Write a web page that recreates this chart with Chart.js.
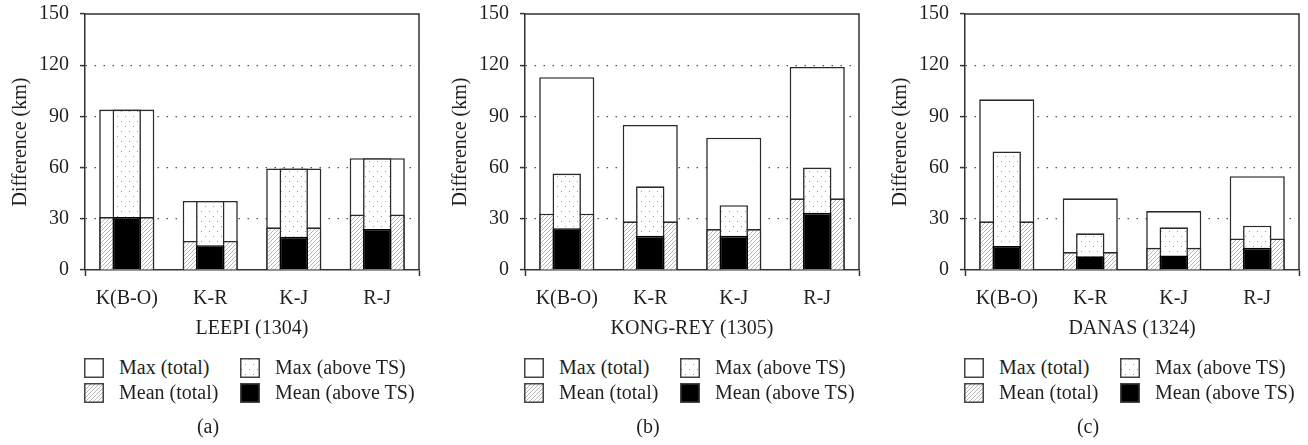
<!DOCTYPE html>
<html>
<head>
<meta charset="utf-8">
<script src="https://cdn.jsdelivr.net/npm/chart.js@4/dist/chart.umd.min.js"></script>
<style>
  body { margin: 0; background: #fff; font-family: 'Liberation Serif', 'Times New Roman', Times, 'Noto Serif', 'DejaVu Serif', serif; color: #231f20; }
  #wrap { position: relative; width: 1308px; height: 445px; overflow: hidden; }
  .panel { position: absolute; top: 0; width: 428px; height: 445px; }
  .panel canvas.plot { position: absolute; left: 0; top: 0; }
  .legend { position: absolute; left: 84px; top: 355px; display: grid; grid-template-columns: 156px auto; grid-auto-rows: 25px; font-size: 20px; }
  .legend .item { display: flex; align-items: center; white-space: nowrap; }
  .legend canvas { margin-right: 15px; }
  .caption { position: absolute; left: 0; width: 416px; top: 414px; text-align: center; font-size: 20px; line-height: 24px; }
</style>
</head>
<body>
<div id="wrap"></div>
<script>
// categories and series
const categories = ['K(B-O)', 'K-R', 'K-J', 'R-J'];
const seriesLabels = ['Max (total)', 'Max (above TS)', 'Mean (total)', 'Mean (above TS)'];

const maxTotalA  = [94, 40.5, 59.5, 65.5];
const maxAboveA  = [94, 40.5, 59.5, 65.5];
const meanTotalA = [31, 17, 25, 32.5];
const meanAboveA = [31, 14.5, 19.5, 24];

const maxTotalB  = [113, 85, 77.5, 119];
const maxAboveB  = [56.5, 49, 38, 60];
const meanTotalB = [33, 28.5, 24, 42];
const meanAboveB = [24.5, 20, 20, 33.5];

const maxTotalC  = [100, 42, 34.5, 55];
const maxAboveC  = [69.5, 21.5, 25, 26];
const meanTotalC = [28.5, 10.5, 13, 18.5];
const meanAboveC = [14, 8, 8.5, 13];

const panelTitles = ['LEEPI (1304)', 'KONG-REY (1305)', 'DANAS (1324)'];
const captions = ['(a)', '(b)', '(c)'];
const yMax = 150;
const yStep = 30;

const FONT = "'Liberation Serif', 'Times New Roman', Times, 'Noto Serif', 'DejaVu Serif', serif";
Chart.defaults.font.family = FONT;
Chart.defaults.font.size = 20;
Chart.defaults.color = '#231f20';

function makePattern(w, h, paint) {
  const c = document.createElement('canvas');
  c.width = w; c.height = h;
  const g = c.getContext('2d');
  g.fillStyle = '#fff';
  g.fillRect(0, 0, w, h);
  paint(g);
  return g.createPattern(c, 'repeat');
}

const hatch = makePattern(4, 4, g => {
  g.strokeStyle = '#a4a4a4';
  g.lineWidth = 0.8;
  g.beginPath();
  g.moveTo(0, 4); g.lineTo(4, 0);
  g.moveTo(-1, 1); g.lineTo(1, -1);
  g.moveTo(3, 5); g.lineTo(5, 3);
  g.stroke();
});

const dots = makePattern(8, 10, g => {
  g.fillStyle = '#9c9c9c';
  g.fillRect(1, 1, 1, 1);
  g.fillRect(5, 6, 1, 1);
});

// fill, border and width for each series (wide/narrow overlapping bars)
const styles = [
  { bg: '#fff',  border: '#2a2a2a', pct: 0.66, order: 3 },
  { bg: dots,    border: '#2a2a2a', pct: 0.34, order: 1 },
  { bg: hatch,   border: '#2a2a2a', pct: 0.66, order: 2 },
  { bg: '#000',  border: '#000', pct: 0.34, order: 0 }
];

const frame = {
  id: 'frame',
  afterDraw(chart) {
    const { ctx, chartArea: a } = chart;
    ctx.save();
    ctx.strokeStyle = '#333';
    ctx.lineWidth = 1.5;
    ctx.beginPath();
    ctx.moveTo(a.left, a.top);
    ctx.lineTo(a.right, a.top);
    ctx.lineTo(a.right, a.bottom);
    ctx.stroke();
    ctx.restore();
  }
};

function drawPanel(i, left, series) {
  const wrap = document.getElementById('wrap');
  const panel = document.createElement('div');
  panel.className = 'panel';
  panel.style.left = left + 'px';
  wrap.appendChild(panel);

  const canvas = document.createElement('canvas');
  canvas.className = 'plot';
  canvas.width = 428;
  canvas.height = 347;
  panel.appendChild(canvas);

  const datasets = series.map((data, k) => ({
    label: seriesLabels[k],
    data: data,
    backgroundColor: styles[k].bg,
    borderColor: styles[k].border,
    borderWidth: 1.6,
    grouped: false,
    categoryPercentage: styles[k].pct,
    barPercentage: 1,
    order: styles[k].order
  }));

  new Chart(canvas, {
    type: 'bar',
    data: { labels: categories, datasets: datasets },
    options: {
      responsive: false,
      animation: false,
      devicePixelRatio: 1,
      layout: { padding: { top: 14, right: 9, bottom: 6, left: 0 } },
      plugins: { legend: { display: false }, tooltip: { enabled: false } },
      scales: {
        x: {
          grid: {
            display: true,
            drawOnChartArea: false,
            drawTicks: true,
            tickLength: 6,
            tickWidth: 1.5,
            color: 'transparent',
            tickColor: c => (c.type === 'scale' || c.index === 0) ? '#333' : 'transparent'
          },
          border: { display: true, color: '#333', width: 1.5 },
          ticks: { padding: 11, maxRotation: 0 },
          title: { display: true, text: panelTitles[i], padding: { top: -5, bottom: 0 } }
        },
        y: {
          min: 0,
          max: yMax,
          afterFit: s => { s.width = 85; s.paddingTop = 0; s.paddingBottom = 0; },
          ticks: { stepSize: yStep, padding: 11 },
          grid: {
            color: c => (c.tick && (c.tick.value === 0 || c.tick.value === yMax)) ? 'transparent' : '#555',
            lineWidth: 1.2,
            tickColor: '#333',
            tickLength: 5,
            tickWidth: 1.5
          },
          border: { display: true, color: '#333', width: 1.5, dash: [1.5, 7.5] },
          title: { display: true, text: 'Difference (km)', padding: { top: 9, bottom: 0 } }
        }
      }
    },
    plugins: [frame]
  });

  // legend in two columns, like the figure
  const legend = document.createElement('div');
  legend.className = 'legend';
  datasets.forEach(ds => {
    const item = document.createElement('div');
    item.className = 'item';
    const sw = document.createElement('canvas');
    sw.width = 20; sw.height = 20;
    const g = sw.getContext('2d');
    g.fillStyle = ds.backgroundColor;
    g.fillRect(0, 0, 20, 20);
    g.strokeStyle = '#444';
    g.lineWidth = 1.5;
    g.strokeRect(0.75, 0.75, 18.5, 18.5);
    item.appendChild(sw);
    item.appendChild(document.createTextNode(ds.label));
    legend.appendChild(item);
  });
  panel.appendChild(legend);

  const cap = document.createElement('div');
  cap.className = 'caption';
  cap.textContent = captions[i];
  panel.appendChild(cap);
}

drawPanel(0, 0,   [maxTotalA, maxAboveA, meanTotalA, meanAboveA]);
drawPanel(1, 440, [maxTotalB, maxAboveB, meanTotalB, meanAboveB]);
drawPanel(2, 880, [maxTotalC, maxAboveC, meanTotalC, meanAboveC]);
</script>
</body>
</html>
